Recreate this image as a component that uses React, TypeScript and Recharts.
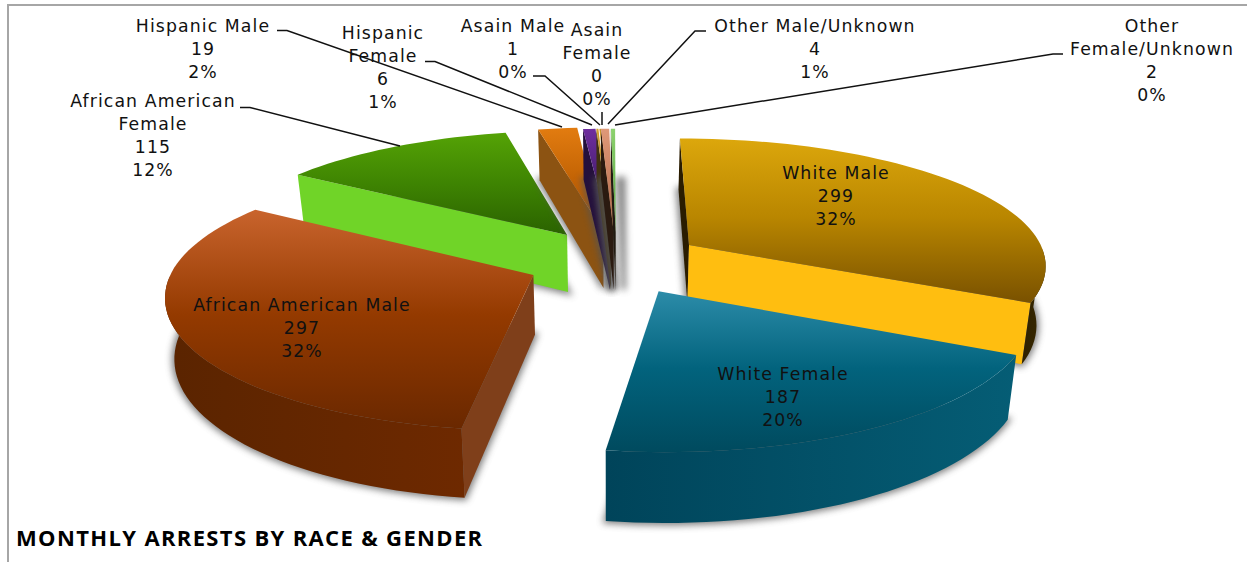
import React from "react";
import { PieChart, Pie } from "recharts";

// Listed from African American Female round to African American Male so the
// front slices paint last. startAngle below keeps White Male at 12 o'clock.
const categories = [
  "African American Female",
  "Hispanic Male",
  "Hispanic Female",
  "Asain Male",
  "Asain Female",
  "Other Male/Unknown",
  "Other Female/Unknown",
  "White Male",
  "White Female",
  "African American Male",
];
const arrestCounts = [115, 19, 6, 1, 0, 4, 2, 299, 187, 297];
const percentLabels = ["12%", "2%", "1%", "0%", "0%", "1%", "0%", "32%", "20%", "32%"];

const chartData = categories.map((name, i) => ({ name, value: arrestCounts[i] }));

// label text wrapped as in the picture, centre x and first line centre y
const labelLines = [
  ["African American", "Female"],
  ["Hispanic Male"],
  ["Hispanic", "Female"],
  ["Asain Male"],
  ["Asain", "Female"],
  ["Other Male/Unknown"],
  ["Other", "Female/Unknown"],
  ["White Male"],
  ["White Female"],
  ["African American Male"],
];
const labelSpots = [
  [153, 101], [203, 26], [383, 33], [513, 26], [597, 30],
  [815, 26], [1152, 26], [836, 173], [783, 374], [302, 305],
];
const leaders = [
  "240,107.5 250,107.5 400,146",
  "277,30.5 287,30.5 562,127",
  "425,61.5 435,61.5 592,125",
  "533,76 545,76 600,125",
  "602,112 602,125",
  "706,31 695,31 608,124",
  "1063,54 1053,54 615,125",
  "", "", "",
];

// how far each slice is pulled out, in the pie's ground plane
const pullOut = [
  [-45, -133], [-7, -145], [0, -140], [1, -140], [3, -140],
  [4, -140], [6, -140], [82, -102], [48, 31], [-77, -14],
];
const shadowShift = [0, 0, 0, 0, 0, 0, 8, 0, 0, 0];

// top gradient from, mid, to, start cut, end cut, outer wall from, to
const looks = [
  ["#55a306", "#3f8502", "#2a6200", "#70d428", "#2a6200", "#2a6200", "#2a6200"],
  ["#e27c10", "#c46405", "#a85000", "#8c5312", "#a85000", "#8c5312", "#8c5312"],
  ["#6e2f9e", "#4a1f74", "#2c1048", "#24103c", "#2c1048", "#24103c", "#24103c"],
  ["#d4a030", "#a88028", "#806020", "#403010", "#806020", "#403010", "#403010"],
  ["#d4a030", "#a88028", "#806020", "#403010", "#806020", "#403010", "#403010"],
  ["#df9878", "#c88060", "#b06a48", "#2a1a10", "#b06a48", "#2a1a10", "#2a1a10"],
  ["#8cd26e", "#70b855", "#58a040", "#201a10", "#58a040", "#201a10", "#201a10"],
  ["#dca70c", "#b98600", "#795100", "#2a1c00", "#ffbe10", "#2e2000", "#3a2a00"],
  ["#2c8ca9", "#02637d", "#004a5e", "#004a60", "#004a60", "#00445a", "#055d75"],
  ["#c9642d", "#943a00", "#6a2800", "#7f3f1a", "#6a2800", "#5a2400", "#6e2900"],
];

const FONT = "'DejaVu Sans', sans-serif";
const CX = 610;
const CY = 280;
const DEPTH = 2700; // viewer distance, gives the far side its smaller scale
const HEIGHT = 960; // camera height over the plane
const THICK = 60;

const project = (a: number, b: number, z = 0) => {
  const s = DEPTH / (DEPTH - b);
  return [CX + a * s * (1 + z * 0.00035), CY - HEIGHT + HEIGHT * s - z * s];
};

const toPath = (pts: number[][]) =>
  "M" + pts.map((p) => p[0].toFixed(1) + "," + p[1].toFixed(1)).join("L") + "Z";

// which side of the line a-b the point p falls on
const side = (a: number[], b: number[], p: number[]) =>
  (b[0] - a[0]) * (p[1] - a[1]) - (b[1] - a[1]) * (p[0] - a[0]);

const Slice3D = (props: any) => {
  const name = props.name ?? props.payload?.name;
  const i = categories.indexOf(name);
  const [ox, oy] = pullOut[i];
  const look = looks[i];
  const r = props.outerRadius;
  const th0 = 90 - props.startAngle;
  const th1 = 90 - props.endAngle;

  const angles: number[] = [];
  const steps = Math.max(1, Math.ceil((th1 - th0) / 2));
  for (let k = 0; k <= steps; k++) angles.push(th0 + ((th1 - th0) * k) / steps);

  const ringAt = (list: number[], z: number) =>
    list.map((deg) => {
      const t = (deg * Math.PI) / 180;
      const c = Math.cos(t);
      return project(ox + r * Math.sin(t), oy - r * c * (c < 0 ? 1.04 : 1), z);
    });
  const top = ringAt(angles, 0);
  const bottom = ringAt(angles, -THICK);
  const apexTop = project(ox, oy, 0);
  const apexBottom = project(ox, oy, -THICK);
  const last = top.length - 1;
  const zeroWidth = props.value === 0;
  // a cut face shows only when its lower edge falls outside the top face
  const showStart = side(apexTop, top[0], bottom[0]) * side(apexTop, top[0], top[last]) < 0;
  const showEnd = side(apexTop, top[last], bottom[last]) * side(apexTop, top[last], top[0]) < 0;
  // the rounded wall shows only on the near half of the pie
  const nearAngles = angles.filter((deg) => Math.cos((deg * Math.PI) / 180) < 0);

  return (
    <g>
      <defs>
        <linearGradient id={"face" + i} x1="0" y1="0" x2="0" y2="1">
          <stop offset="0" stopColor={look[0]} />
          <stop offset="0.48" stopColor={look[1]} />
          <stop offset="1" stopColor={look[2]} />
        </linearGradient>
        <linearGradient id={"wall" + i} x1="0" y1="0" x2="1" y2="0">
          <stop offset="0" stopColor={look[5]} />
          <stop offset="1" stopColor={look[6]} />
        </linearGradient>
      </defs>
      <path
        d={toPath([apexBottom, ...bottom])}
        transform={`translate(${shadowShift[i]},0)`}
        fill="#555"
        stroke="#555"
        strokeWidth={5}
        opacity={0.75}
        style={{ filter: "blur(3.5px)" }}
      />
      {showStart && <path d={toPath([apexTop, top[0], bottom[0], apexBottom])} fill={look[3]} />}
      {showEnd && <path d={toPath([apexTop, top[last], bottom[last], apexBottom])} fill={look[4]} />}
      {nearAngles.length > 1 && (
        <path
          d={toPath([...ringAt(nearAngles, 0), ...ringAt(nearAngles, -THICK).reverse()])}
          fill={"url(#wall" + i + ")"}
        />
      )}
      <path
        d={toPath([apexTop, ...top])}
        fill={"url(#face" + i + ")"}
        stroke={zeroWidth ? look[0] : "none"}
        strokeWidth={zeroWidth ? 1.5 : 0}
      />
    </g>
  );
};

const SliceLabel = (props: any) => {
  const i = props.index;
  const [x, y] = labelSpots[i];
  const lines = [...labelLines[i], String(arrestCounts[i]), percentLabels[i]];
  return (
    <g>
      {leaders[i] && <polyline points={leaders[i]} fill="none" stroke="#111" strokeWidth={1.5} />}
      {lines.map((line, k) => (
        <text
          key={k}
          x={x}
          y={y + k * 23}
          textAnchor="middle"
          dominantBaseline="central"
          fontFamily={FONT}
          fontSize={17.3}
          letterSpacing={1.1}
          fill="#111"
        >
          {line}
        </text>
      ))}
    </g>
  );
};

export default function App() {
  return (
    <div style={{ position: "absolute", left: 0, top: 0, width: 1247, height: 562 }}>
      <div
        style={{
          position: "absolute",
          left: 7,
          top: 4,
          width: 1240,
          height: 558,
          boxSizing: "border-box",
          borderTop: "2px solid #a6a6a6",
          borderLeft: "2px solid #a6a6a6",
        }}
      />
      <div style={{ position: "absolute", left: 0, top: 0 }}>
        <PieChart width={1247} height={562} margin={{ top: 0, right: 0, bottom: 0, left: 0 }}>
          <Pie
            data={chartData}
            dataKey="value"
            nameKey="name"
            cx={CX}
            cy={CY}
            outerRadius={365}
            startAngle={146.9}
            endAngle={-213.1}
            stroke="none"
            shape={Slice3D}
            label={SliceLabel}
            labelLine={false}
            isAnimationActive={false}
          />
          <text
            x={16}
            y={546}
            fontFamily="'Open Sans', sans-serif"
            fontWeight={700}
            fontSize={22}
            letterSpacing={1.35}
            fill="#000"
          >
            MONTHLY ARRESTS BY RACE &amp; GENDER
          </text>
        </PieChart>
      </div>
    </div>
  );
}
